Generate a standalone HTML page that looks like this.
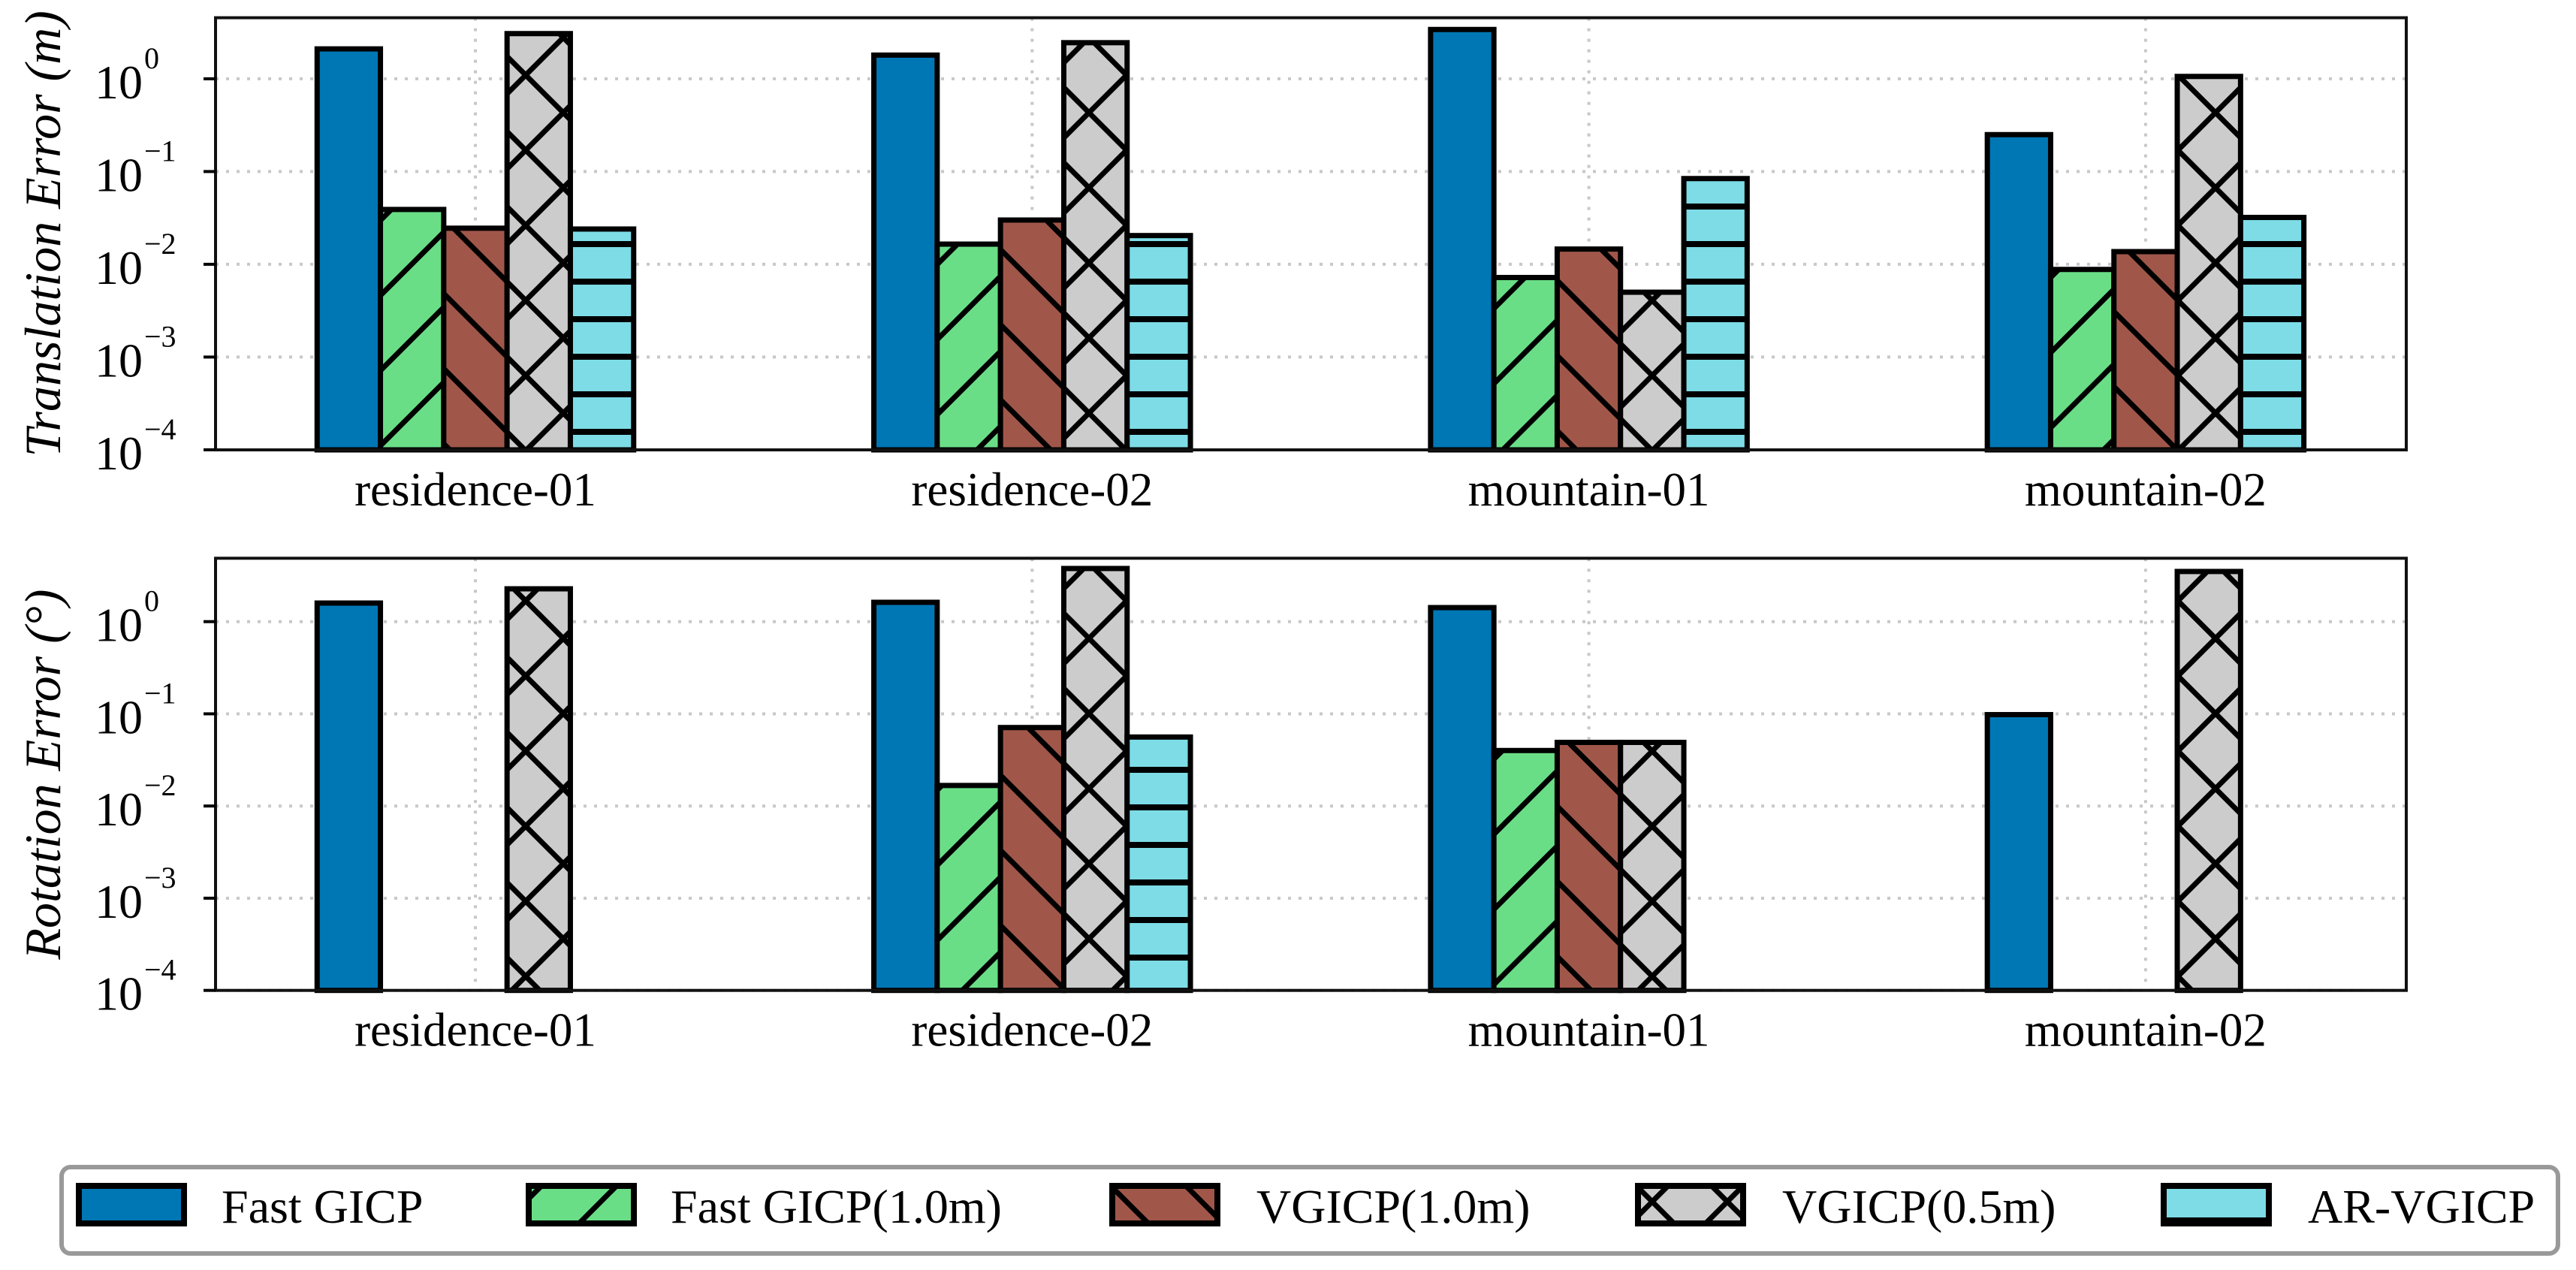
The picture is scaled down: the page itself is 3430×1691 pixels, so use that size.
<!DOCTYPE html>
<html><head><meta charset="utf-8"><style>
html,body{margin:0;padding:0;background:#fff;}
svg{display:block;font-family:"Liberation Serif",serif;}
</style></head><body>
<svg id="chart" width="3430" height="1691" viewBox="0 0 3430 1691" xmlns="http://www.w3.org/2000/svg">
<defs>
<pattern id="h-fwd" patternUnits="userSpaceOnUse" width="100" height="100"><path d="M-25,125 L125,-25 M-25,25 L25,-25 M75,125 L125,75" stroke="#000" stroke-width="7"/></pattern>
<pattern id="h-back" patternUnits="userSpaceOnUse" width="100" height="100"><path d="M-25,-25 L125,125 M-25,75 L25,125 M75,-25 L125,25" stroke="#000" stroke-width="7"/></pattern>
<pattern id="h-cross" patternUnits="userSpaceOnUse" width="100" height="100"><path d="M-25,125 L125,-25 M-25,25 L25,-25 M75,125 L125,75 M-25,-25 L125,125 M-25,75 L25,125 M75,-25 L125,25" stroke="#000" stroke-width="7"/></pattern>
<pattern id="h-horiz" patternUnits="userSpaceOnUse" width="50" height="50"><path d="M0,25 L50,25" stroke="#000" stroke-width="8"/></pattern>
</defs>
<g id="layer"></g>
</svg>
<script>
const categories = ["residence-01","residence-02","mountain-01","mountain-02"];
const seriesNames = ["Fast GICP","Fast GICP(1.0m)","VGICP(1.0m)","VGICP(0.5m)","AR-VGICP"];
const transFast = [2.1, 1.8, 3.4, 0.25];
const transFast1 = [0.039, 0.0165, 0.0072, 0.0088];
const transV1 = [0.0245, 0.030, 0.0146, 0.0137];
const transV05 = [3.07, 2.45, 0.0050, 1.06];
const transAR = [0.024, 0.0204, 0.084, 0.032];
const rotFast = [1.59, 1.62, 1.42, 0.098];
const rotFast1 = [null, 0.0167, 0.040, null];
const rotV1 = [null, 0.071, 0.049, null];
const rotV05 = [2.27, 3.77, 0.049, 3.5];
const rotAR = [null, 0.056, null, null];
const tickExps = [0, -1, -2, -3, -4];

const NS = "http://www.w3.org/2000/svg";
const layer = document.getElementById("layer");
const fills = ["#0077b5","#6ade87","#a0574a","#cccccc","#7ddce6"];
const hatches = [null,"url(#h-fwd)","url(#h-back)","url(#h-cross)","url(#h-horiz)"];
const PL = 287, PR = 3204, C0 = 633, CSTEP = 741.3, BW = 84.3;
function xCenter(i){ return C0 + i*CSTEP; }
function mk(tag, attrs, parent){ const e=document.createElementNS(NS,tag); for(const k in attrs) e.setAttribute(k,attrs[k]); (parent||layer).appendChild(e); return e; }

const panels = [
  {name:"translation", top:23.6, zero:104.9, dec:123.5, bottom:599, title:"Translation Error (m)", series:[transFast,transFast1,transV1,transV05,transAR]},
  {name:"rotation", top:743.3, zero:827.7, dec:122.75, bottom:1318.7, title:"Rotation Error (°)", series:[rotFast,rotFast1,rotV1,rotV05,rotAR]}
];

panels.forEach(p=>{
  const y = v => p.zero - p.dec*Math.log10(v);
  const g = mk("g",{});
  
  
  tickExps.forEach(e=>{
    const gl = mk("line",{x1:PL,x2:PR,y1:y(Math.pow(10,e)),y2:y(Math.pow(10,e)),stroke:"#c8c8c8","stroke-width":4,"stroke-dasharray":"4 10"},g);
    
    
  });
  categories.forEach((c,i)=>{
    const gl = mk("line",{x1:xCenter(i),x2:xCenter(i),y1:p.top,y2:p.bottom,stroke:"#c8c8c8","stroke-width":4,"stroke-dasharray":"4 10"},g);
    
    
  });
  p.series.forEach((arr,s)=>{
    arr.forEach((v,i)=>{
      if(v===null||v===undefined) return;
      const x0 = xCenter(i) + (s-2)*BW - BW/2;
      const yt = y(v);
      const r = mk("rect",{x:x0,y:yt,width:BW,height:p.bottom-yt,fill:fills[s]},g);
      
      
      if(hatches[s]){ const h=mk("rect",{x:x0,y:yt,width:BW,height:p.bottom-yt,fill:hatches[s]},g);
        
         }
      const o = mk("rect",{x:x0,y:yt,width:BW,height:p.bottom-yt,fill:"none",stroke:"#000","stroke-width":7},g);
      
      
    });
  });
  const fr = mk("rect",{x:PL,y:p.top,width:PR-PL,height:p.bottom-p.top,fill:"none",stroke:"#111","stroke-width":4},g);
  
  
  tickExps.forEach(e=>{
    const ty = y(Math.pow(10,e));
    const tk = mk("line",{x1:PL-16,x2:PL,y1:ty,y2:ty,stroke:"#000","stroke-width":4},g);
    
    
    const t = mk("text",{x:190,y:ty+26,"font-size":64,"text-anchor":"end",fill:"#000"},g);
    t.textContent = "10";
    
    
    const sp = mk("text",{x:192,y:ty-14,"font-size":40,fill:"#000"},g);
    sp.textContent = e===0 ? "0" : "\u2212"+(-e);
    
    
  });
  categories.forEach((c,i)=>{
    const t = mk("text",{x:xCenter(i),y:p.bottom+74,"font-size":63,"text-anchor":"middle",fill:"#000"},g);
    t.textContent = c;
    
    
  });
  const cy = (p.top+p.bottom)/2;
  const yt = mk("text",{x:0,y:0,"font-size":68,"font-style":"italic","text-anchor":"middle",fill:"#000",transform:"translate(80,"+cy+") rotate(-90)"},g);
  yt.textContent = p.title;
  
  
});

const lg = mk("g",{});


const lb = mk("rect",{x:82,y:1554,width:3324,height:115,rx:12,fill:"#fff",stroke:"#999","stroke-width":6},lg);


const patchX = [105,704,1481,2181,2881];
const textX = [295,893,1673,2373,3073];
seriesNames.forEach((n,s)=>{
  const r = mk("rect",{x:patchX[s],y:1579,width:140,height:50,fill:fills[s]},lg);
  
  
  if(hatches[s]){ const h=mk("rect",{x:patchX[s],y:1579,width:140,height:50,fill:hatches[s]},lg);
    
     }
  const o = mk("rect",{x:patchX[s],y:1579,width:140,height:50,fill:"none",stroke:"#000","stroke-width":8},lg);
  
  
  const t = mk("text",{x:textX[s],y:1628,"font-size":64,fill:"#000"},lg);
  t.textContent = n;
  
  
});
</script>
</body></html>
